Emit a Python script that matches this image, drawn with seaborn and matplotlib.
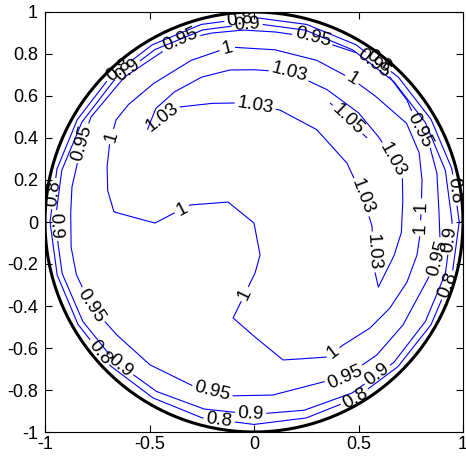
import numpy as np
import matplotlib
matplotlib.use('Agg')
import matplotlib.pyplot as plt
from matplotlib.contour import ContourSet
import seaborn as sns

sns.set_style('ticks')
plt.rcParams['font.family'] = ['Liberation Sans', 'DejaVu Sans']
plt.rcParams['axes.unicode_minus'] = False

# contour levels shown on the disk
levels = [0.8, 0.9, 0.95, 1.0, 1.03, 1.05]

# the two outer levels run almost round the rim: radius read every 15 degrees
ring_angles = [0, 15, 30, 45, 60, 75, 90, 105, 120, 135, 150, 165,
               180, 195, 210, 225, 240, 255, 270, 285, 300, 315, 330, 345]
r_08 = [0.982, 0.980, 0.978, 0.976, 0.975, 0.974, 0.974, 0.974, 0.974, 0.975, 0.976, 0.976,
        0.976, 0.975, 0.973, 0.970, 0.967, 0.965, 0.964, 0.966, 0.970, 0.974, 0.978, 0.981]
r_09 = [0.948, 0.948, 0.947, 0.946, 0.946, 0.946, 0.946, 0.947, 0.948, 0.950, 0.951, 0.952,
        0.952, 0.950, 0.946, 0.940, 0.932, 0.922, 0.916, 0.928, 0.940, 0.946, 0.947, 0.948]

# 0.95 contour (closed)
x_095 = [-0.05, 0.10, 0.28, 0.378, 0.522, 0.65, 0.732, 0.794, 0.842, 0.875, 0.885, 0.89, 0.88,
         0.842, 0.713, 0.588, 0.435, 0.33, 0.09, -0.115, -0.273, -0.498, -0.656, -0.78, -0.85,
         -0.875, -0.877, -0.871, -0.823, -0.78, -0.62, -0.354, -0.2, -0.05]
y_095 = [0.914, 0.905, 0.88, 0.843, 0.795, 0.69, 0.58, 0.438, 0.357, 0.233, 0.05, -0.086, -0.17,
         -0.252, -0.49, -0.633, -0.738, -0.762, -0.824, -0.828, -0.79, -0.68, -0.538, -0.40, -0.25,
         -0.12, 0.043, 0.167, 0.376, 0.5, 0.69, 0.867, 0.9, 0.914]

# 1.0 contour (closed, folds in towards the centre on the lower left)
x_100 = [-0.67, -0.474, -0.354, -0.306, -0.124, 0.0, 0.029, 0.005, -0.1, 0.005, 0.139, 0.22,
         0.349, 0.426, 0.555, 0.65, 0.732, 0.78, 0.794, 0.80, 0.804, 0.79, 0.73, 0.58, 0.47,
         0.3, 0.1, -0.115, -0.3, -0.48, -0.6, -0.66, -0.69, -0.703, -0.70, -0.67]
y_100 = [0.048, -0.005, 0.057, 0.081, 0.095, -0.005, -0.157, -0.243, -0.457, -0.548, -0.657, -0.652,
         -0.643, -0.586, -0.505, -0.41, -0.286, -0.157, -0.062, 0.07, 0.2, 0.33, 0.47, 0.60, 0.68,
         0.77, 0.82, 0.833, 0.77, 0.66, 0.56, 0.486, 0.38, 0.262, 0.15, 0.048]

# 1.03 contour (closed horseshoe)
x_103 = [-0.51, -0.44, -0.38, -0.2, -0.067, 0.124, 0.30, 0.445, 0.52, 0.565, 0.57, 0.595,
         0.67, 0.705, 0.712, 0.71, 0.665, 0.60, 0.50, 0.35, 0.17, 0.0, -0.115, -0.25, -0.38,
         -0.47, -0.51]
y_103 = [0.44, 0.50, 0.545, 0.565, 0.567, 0.533, 0.44, 0.28, 0.12, -0.02, -0.20, -0.31,
         -0.16, -0.05, 0.10, 0.21, 0.295, 0.40, 0.52, 0.63, 0.714, 0.725, 0.724, 0.69, 0.62,
         0.54, 0.44]

# 1.05 contour (thin sliver)
x_105 = [0.364, 0.45, 0.541]
y_105 = [0.567, 0.485, 0.40]

# where the inline labels sit
label_x = [-0.068, -0.652, 0.60, 0.968, 0.932, 0.486, -0.167, -0.745, -0.966,
           -0.033, -0.61, 0.57, 0.944, 0.595, -0.016, -0.641, -0.952,
           -0.354, 0.282, 0.794, 0.88, 0.435, -0.20, -0.78, -0.823,
           -0.13, 0.474, -0.675, -0.345, -0.03, 0.378, 0.797, 0.802,
           -0.44, 0.005, 0.52, 0.57, 0.665, 0.17, 0.45]
label_y = [0.972, 0.725, 0.77, 0.153, -0.303, -0.842, -0.948, -0.625, 0.136,
           0.945, 0.727, 0.755, -0.083, -0.734, -0.915, -0.687, -0.017,
           0.867, 0.88, 0.438, -0.17, -0.738, -0.808, -0.40, 0.376,
           0.833, 0.686, 0.405, 0.06, -0.35, -0.62, -0.03, 0.075,
           0.50, 0.548, 0.12, -0.143, 0.295, 0.714, 0.49]


def ring(radii):
    t = np.deg2rad(ring_angles + [ring_angles[0]])
    r = np.array(radii + [radii[0]])
    return np.column_stack([r * np.cos(t), r * np.sin(t)])


allsegs = [
    [ring(r_08)],
    [ring(r_09)],
    [np.column_stack([x_095, y_095])],
    [np.column_stack([x_100, y_100])],
    [np.column_stack([x_103, y_103])],
    [np.column_stack([x_105, y_105])],
]

fig = plt.figure(figsize=(4.66, 4.61), dpi=100)
ax = fig.add_axes([45 / 466, 29 / 461, 418 / 466, 420 / 461])

cs = ContourSet(ax, levels, allsegs, colors='#0000ff', linewidths=0.8)
ax.clabel(cs, manual=list(zip(label_x, label_y)), inline=True, inline_spacing=3,
          fmt='%g', fontsize=13.5, colors='k')

# disk boundary
t = np.linspace(0, 2 * np.pi, 300)
ax.plot(np.cos(t), np.sin(t), color='k', lw=2.2, zorder=3)

ax.set_xlim(-1, 1)
ax.set_ylim(-1, 1)
ax.set_xticks([-1, -0.5, 0, 0.5, 1])
ax.set_xticklabels(['-1', '-0.5', '0', '0.5', '1'])
yt = [-1, -0.8, -0.6, -0.4, -0.2, 0, 0.2, 0.4, 0.6, 0.8, 1]
ax.set_yticks(yt)
ax.set_yticklabels(['-1', '-0.8', '-0.6', '-0.4', '-0.2', '0', '0.2', '0.4', '0.6', '0.8', '1'])
ax.tick_params(direction='in', top=True, right=True, length=5, width=0.8,
               labelsize=13, colors='k')
ax.tick_params(axis='x', pad=3)
ax.tick_params(axis='y', pad=5)
for s in ax.spines.values():
    s.set_color('k')
    s.set_linewidth(0.8)

fig.savefig('out.png', dpi=100)
